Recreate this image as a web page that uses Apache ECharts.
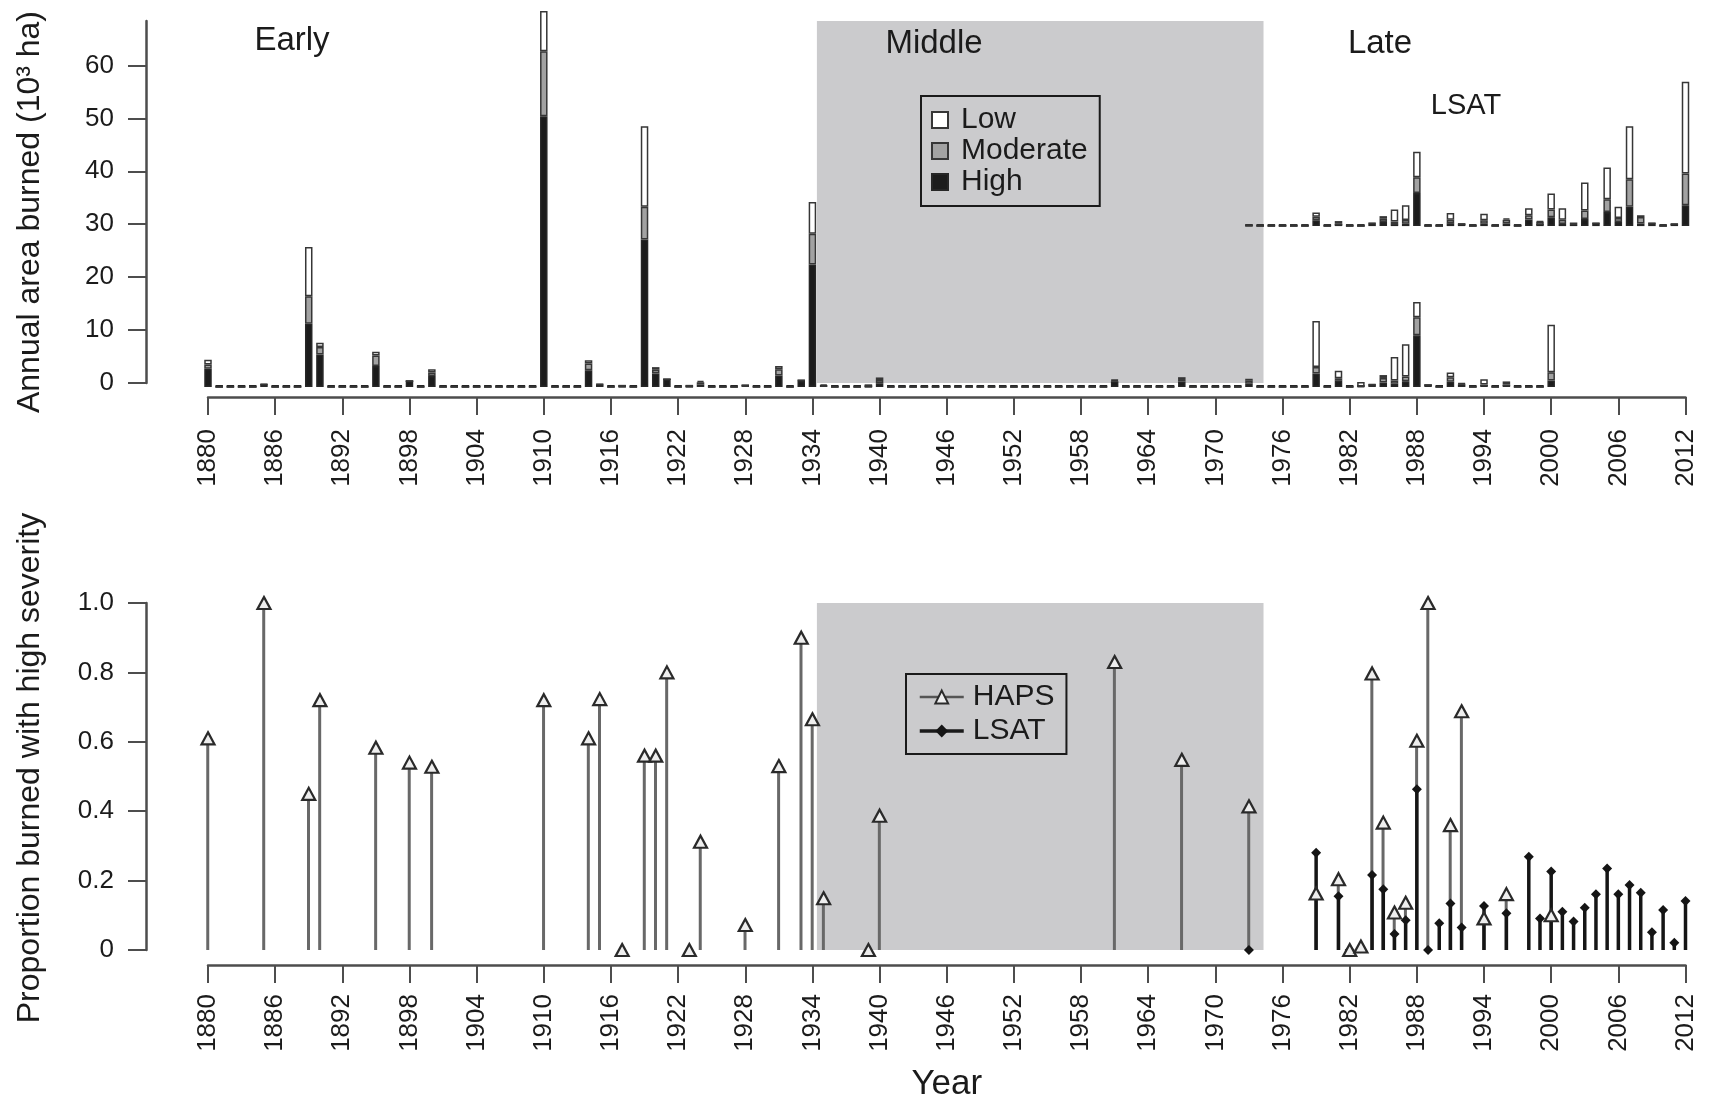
<!DOCTYPE html>
<html>
<head>
<meta charset="utf-8">
<title>Annual area burned and proportion burned with high severity</title>
<script src="https://cdn.jsdelivr.net/npm/echarts@6/dist/echarts.min.js"></script>
<style>
  html, body { margin: 0; padding: 0; background: #ffffff; }
  #chart { width: 1714px; height: 1102px; }
</style>
</head>
<body>
<div id="chart"></div>
<script>
// ---- Burned area by severity class (10^3 ha), HAPS record 1880-2000 ----
const hapsFireYears = [1880, 1885, 1889, 1890, 1895, 1898, 1900, 1910, 1914, 1915,
  1917, 1919, 1920, 1921, 1923, 1924, 1928, 1931, 1933, 1934,
  1935, 1939, 1940, 1961, 1967, 1973, 1979, 1981, 1983, 1984,
  1985, 1986, 1987, 1988, 1989, 1991, 1992, 1994, 1996, 2000];
const hapsHigh = [3.45, 0.45, 11.95, 6.15, 3.95, 1.15, 2.05, 51.15, 3.15, 0.4,
  0, 27.85, 2.55, 1.45, 0, 0.5, 0.05, 2.15, 1.15, 23.15,
  0.05, 0, 0.7, 1.1, 1.0, 0.6, 2.55, 1.25, 0, 0.4,
  0.85, 0.6, 1.1, 9.75, 0.35, 1.0, 0.5, 0.15, 0.2, 1.2];
const hapsModerate = [0.8, 0, 5.2, 1.4, 2.0, 0, 0.7, 12.3, 1.3, 0.1,
  0, 6.2, 0.7, 0, 0, 0.4, 0.15, 1.2, 0.1, 5.8,
  0.2, 0, 0.6, 0.15, 0.5, 0.6, 1.2, 0.4, 0.1, 0.05,
  0.85, 0.6, 0.9, 3.4, 0, 0.85, 0.1, 0.3, 0.3, 1.6];
const hapsLow = [0.9, 0.1, 9.3, 0.8, 0.7, 0, 0.6, 7.6, 0.6, 0.05,
  0.4, 15.2, 0.5, 0, 0.4, 0.25, 0.3, 0.6, 0, 6.0,
  0.2, 0.5, 0.5, 0.1, 0.35, 0.35, 8.7, 1.4, 0.85, 0.05,
  0.55, 4.45, 6.05, 2.9, 0, 0.9, 0.1, 1.0, 0.55, 8.95];

// ---- Burned area by severity class (10^3 ha), LSAT record 1973-2012 ----
const lsatFireYears = [1973, 1979, 1981, 1984, 1985, 1986, 1987, 1988, 1991, 1992,
  1994, 1996, 1998, 1999, 2000, 2001, 2002, 2003, 2004, 2005,
  2006, 2007, 2008, 2009, 2011, 2012];
const lsatHigh = [0, 1.1, 0.15, 0.4, 0.75, 0.35, 0.45, 6.25, 0.55, 0.35,
  0.45, 0.5, 1.25, 0.2, 1.65, 0.4, 0.35, 1.35, 0.45, 2.65,
  0.75, 3.65, 0.5, 0.45, 0.3, 3.95];
const lsatModerate = [0, 0.65, 0.4, 0.15, 0.63, 0.5, 0.7, 3.0, 0.65, 0.05,
  0.65, 0.7, 0.8, 0.6, 1.5, 0.8, 0.2, 1.6, 0.1, 2.4,
  0.8, 5.2, 1.2, 0.1, 0.1, 6.0];
const lsatLow = [0.3, 0.8, 0.4, 0, 0.5, 2.3, 2.8, 4.8, 1.25, 0,
  1.25, 0.25, 1.3, 0.15, 3.0, 2.15, 0, 5.3, 0, 6.0,
  2.1, 10.0, 0.35, 0, 0, 17.3];

// ---- Proportion of burned area with high severity ----
const hapsPropYears = [1880, 1885, 1889, 1890, 1895, 1898, 1900, 1910, 1914, 1915,
  1917, 1919, 1920, 1921, 1923, 1924, 1928, 1931, 1933, 1934,
  1935, 1939, 1940, 1961, 1967, 1973, 1979, 1981, 1982, 1983,
  1984, 1985, 1986, 1987, 1988, 1989, 1991, 1992, 1994, 1996, 2000];
const hapsProp = [0.61, 1.0, 0.45, 0.72, 0.583, 0.54, 0.528, 0.72, 0.61, 0.723,
  0, 0.56, 0.56, 0.80, 0, 0.312, 0.072, 0.53, 0.90, 0.665,
  0.149, 0, 0.387, 0.83, 0.548, 0.414, 0.163, 0.204, 0, 0.01,
  0.797, 0.367, 0.108, 0.136, 0.603, 1.0, 0.36, 0.688, 0.091, 0.161, 0.10];
const lsatPropYears = [1973, 1979, 1981, 1982, 1983, 1984, 1985, 1986, 1987, 1988,
  1989, 1990, 1991, 1992, 1994, 1996, 1998, 1999, 2000, 2001,
  2002, 2003, 2004, 2005, 2006, 2007, 2008, 2009, 2010, 2011, 2012];
const lsatProp = [0, 0.28, 0.155, 0, 0.005, 0.216, 0.175, 0.046, 0.086, 0.463,
  0, 0.077, 0.134, 0.065, 0.127, 0.106, 0.269, 0.091, 0.226, 0.11,
  0.082, 0.122, 0.161, 0.235, 0.161, 0.187, 0.165, 0.051, 0.115, 0.021, 0.141];

// ---- Record spans, bar baselines and axis ticks ----
const hapsSpan = [1880, 2000];
const lsatSpan = [1973, 2012];
const hapsBaseline = -0.75;   // HAPS bars sit just under the zero tick
const lsatBaseline = 29.65;   // LSAT bars are lifted above the HAPS bars
const areaTicks = [0, 10, 20, 30, 40, 50, 60];
const middlePeriod = [1934.4, 1974.3];

// ---- helpers ----
function yearsBetween(span) {
  const out = [];
  for (let y = span[0]; y <= span[1]; y++) out.push(y);
  return out;
}
// Rows are [value, year] so that stacking runs on the value (y) dimension.
function onEveryYear(span, fireYears, values) {
  const byYear = new Map(fireYears.map((y, i) => [y, values[i]]));
  return yearsBetween(span).map(y => [byYear.has(y) ? byYear.get(y) : 0, y]);
}
function constantRows(span, value) {
  return yearsBetween(span).map(y => [value, y]);
}
function pairs(years, values) { return years.map((y, i) => [y, values[i]]); }

const FONT = '"Liberation Sans", Arial, Helvetica, sans-serif';
const INK = '#1b1b1b';
const AXIS = '#4d4d4d';
const SHADE = '#cbcbcd';
const BAR_W = 7.5;

const severityStyle = {
  High: { color: '#1c1c1c', borderColor: '#262626', borderWidth: 1.5 },
  Moderate: { color: '#a2a2a2', borderColor: '#363636', borderWidth: 1.5 },
  Low: { color: '#ffffff', borderColor: '#363636', borderWidth: 1.5 }
};

function stackBars(name, stackId, data, extra) {
  return Object.assign({
    type: 'bar', name: name, stack: stackId, stackStrategy: 'all',
    xAxisIndex: 0, yAxisIndex: 0, barWidth: BAR_W, barGap: '-100%',
    clip: false, silent: true, data: data,
    encode: { x: 1, y: 0 },
    itemStyle: severityStyle[name]
  }, extra || {});
}

function xAxisFor(gridIndex, offset, margin, name) {
  return {
    type: 'value', gridIndex: gridIndex, min: 1880, max: 2012, interval: 6, offset: offset,
    axisLine: { show: true, onZero: false, lineStyle: { color: AXIS, width: 2.5 } },
    axisTick: { show: true, length: 18, lineStyle: { color: AXIS, width: 2 } },
    axisLabel: { rotate: 90, margin: margin, fontSize: 26, color: INK, fontFamily: FONT,
      formatter: v => String(v) },
    splitLine: { show: false },
    name: name, nameLocation: 'middle', nameGap: 102,
    nameTextStyle: { fontSize: 35, color: INK, fontFamily: FONT }
  };
}

function annotation(text, x, y, size) {
  return { type: 'text', x: x, y: y, z: 100, silent: true,
    style: { text: text, fontSize: size, fontFamily: FONT, fill: INK, align: 'center', verticalAlign: 'middle' } };
}

const option = {
  animation: false,
  backgroundColor: '#ffffff',
  textStyle: { fontFamily: FONT },
  grid: [
    { left: 208, right: 28.5, top: 21, height: 362, containLabel: false, outerBoundsMode: 'none' },
    { left: 208, right: 28.5, top: 603, height: 347, containLabel: false, outerBoundsMode: 'none' }
  ],
  xAxis: [
    xAxisFor(0, 14, 32, ''),
    xAxisFor(1, 15, 29, 'Year')
  ],
  yAxis: [
    {
      type: 'value', gridIndex: 0, min: 0, max: 68.4, offset: 62,
      axisLine: { show: true, onZero: false, lineStyle: { color: AXIS, width: 2.5 } },
      axisTick: { show: true, length: 18, customValues: areaTicks, lineStyle: { color: AXIS, width: 2 } },
      axisLabel: { margin: 32, customValues: areaTicks, fontSize: 26, color: INK, fontFamily: FONT },
      splitLine: { show: false },
      name: 'Annual area burned (10³ ha)', nameLocation: 'middle', nameRotate: 90, nameGap: 100,
      nameTextStyle: { fontSize: 32, color: INK, fontFamily: FONT, padding: [0, 20, 0, 0] }
    },
    {
      type: 'value', gridIndex: 1, min: 0, max: 1, interval: 0.2, offset: 62,
      axisLine: { show: true, onZero: false, lineStyle: { color: AXIS, width: 2.5 } },
      axisTick: { show: true, length: 18, lineStyle: { color: AXIS, width: 2 } },
      axisLabel: { margin: 32, fontSize: 26, color: INK, fontFamily: FONT,
        formatter: v => (v === 0 ? '0' : v.toFixed(1)) },
      splitLine: { show: false },
      name: 'Proportion burned with high severity', nameLocation: 'middle', nameRotate: 90, nameGap: 100,
      nameTextStyle: { fontSize: 32, color: INK, fontFamily: FONT, padding: [0, 0, 0, 17] }
    }
  ],
  legend: [
    {
      data: ['Low', 'Moderate', 'High'],
      orient: 'vertical', left: 921, top: 96,
      padding: [9, 12, 9, 10], itemGap: 1, itemWidth: 16, itemHeight: 16, icon: 'rect',
      borderColor: '#1a1a1a', borderWidth: 2, backgroundColor: 'transparent',
      selectedMode: false,
      textStyle: { fontSize: 30, color: INK, fontFamily: FONT, padding: [0, 0, 0, 8] }
    },
    {
      data: [
        { name: 'HAPS', lineStyle: { color: '#555555', width: 2.5, opacity: 1 } },
        { name: 'LSAT', lineStyle: { color: '#1a1a1a', width: 3.5, opacity: 1 } }
      ],
      orient: 'vertical', left: 906, top: 674,
      padding: [8, 12, 8, 12], itemGap: 4, itemWidth: 44, itemHeight: 16,
      borderColor: '#1a1a1a', borderWidth: 2, backgroundColor: 'transparent',
      selectedMode: false,
      textStyle: { fontSize: 30, color: INK, fontFamily: FONT, padding: [0, 0, 0, 4] }
    }
  ],
  graphic: [
    annotation('Early', 292, 41, 33),
    annotation('Middle', 934, 44, 33),
    annotation('Late', 1380, 44, 33),
    annotation('LSAT', 1466, 106, 29)
  ],
  series: [
    // --- top panel: HAPS stacked bars on a baseline just below zero ---
    stackBars('haps-base', 'haps', constantRows(hapsSpan, hapsBaseline), {
      itemStyle: { color: 'rgba(0,0,0,0)', borderWidth: 0 },
      markArea: {
        silent: true, z: 1,
        itemStyle: { color: SHADE, opacity: 1, borderWidth: 0 },
        data: [[{ xAxis: middlePeriod[0], yAxis: hapsBaseline }, { xAxis: middlePeriod[1], yAxis: 68.4 }]]
      }
    }),
    stackBars('High', 'haps', onEveryYear(hapsSpan, hapsFireYears, hapsHigh), { barMinHeight: 2 }),
    stackBars('Moderate', 'haps', onEveryYear(hapsSpan, hapsFireYears, hapsModerate)),
    stackBars('Low', 'haps', onEveryYear(hapsSpan, hapsFireYears, hapsLow)),
    // --- top panel: LSAT stacked bars lifted onto their own baseline ---
    stackBars('lsat-base', 'lsat', constantRows(lsatSpan, lsatBaseline), {
      itemStyle: { color: 'rgba(0,0,0,0)', borderWidth: 0 }
    }),
    stackBars('High', 'lsat', onEveryYear(lsatSpan, lsatFireYears, lsatHigh), { barMinHeight: 2 }),
    stackBars('Moderate', 'lsat', onEveryYear(lsatSpan, lsatFireYears, lsatModerate)),
    stackBars('Low', 'lsat', onEveryYear(lsatSpan, lsatFireYears, lsatLow)),

    // --- bottom panel: vertical stems ---
    {
      type: 'bar', name: 'haps-stem', xAxisIndex: 1, yAxisIndex: 1,
      barWidth: 3, barGap: '-100%', clip: false, silent: true,
      itemStyle: { color: '#686868' },
      data: pairs(hapsPropYears, hapsProp),
      markArea: {
        silent: true, z: 1,
        itemStyle: { color: SHADE, opacity: 1, borderWidth: 0 },
        data: [[{ xAxis: middlePeriod[0], yAxis: 0 }, { xAxis: middlePeriod[1], yAxis: 1 }]]
      }
    },
    {
      type: 'bar', name: 'lsat-stem', xAxisIndex: 1, yAxisIndex: 1,
      barWidth: 3.5, barGap: '-100%', clip: false, silent: true,
      itemStyle: { color: '#151515' },
      data: pairs(lsatPropYears, lsatProp)
    },
    // --- bottom panel: point markers ---
    {
      type: 'line', name: 'LSAT', xAxisIndex: 1, yAxisIndex: 1,
      symbol: 'diamond', symbolSize: [10, 10], showSymbol: true, showAllSymbol: true,
      clip: false, silent: true,
      lineStyle: { opacity: 0 },
      itemStyle: { color: '#151515' },
      data: pairs(lsatPropYears, lsatProp)
    },
    {
      type: 'line', name: 'HAPS', xAxisIndex: 1, yAxisIndex: 1,
      symbol: 'triangle', symbolSize: [13, 12], showSymbol: true, showAllSymbol: true,
      clip: false, silent: true,
      lineStyle: { opacity: 0 },
      itemStyle: { color: '#eeeeee', borderColor: '#2a2a2a', borderWidth: 2.2 },
      data: pairs(hapsPropYears, hapsProp)
    }
  ]
};

const chart = echarts.init(document.getElementById('chart'), null, { renderer: 'canvas' });
chart.setOption(option);
</script>
</body>
</html>
